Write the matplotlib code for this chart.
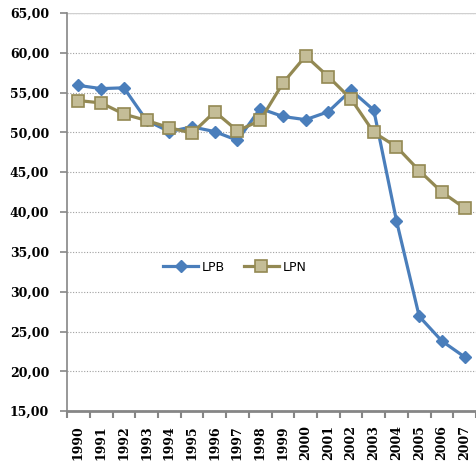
import matplotlib.pyplot as plt
from matplotlib.ticker import FixedLocator, FuncFormatter

years = [str(y) for y in range(1990, 2008)]
lpb = [55.9, 55.5, 55.6, 51.5, 50.1, 50.7, 50.1, 49.0, 53.0, 52.0,
       51.6, 52.6, 55.3, 52.8, 38.9, 26.9, 23.8, 21.8]
lpn = [54.0, 53.7, 52.3, 51.5, 50.6, 49.9, 52.6, 50.2, 51.5, 56.2,
       59.6, 57.0, 54.2, 50.0, 48.2, 45.2, 42.5, 40.5]
yticks = [15, 20, 25, 30, 35, 40, 45, 50, 55, 60, 65]

fig = plt.figure(figsize=(4.76, 4.63), dpi=100)
ax = fig.add_axes([0.141, 0.112, 0.859, 0.86])

x = list(range(len(years)))
ax.plot(x, lpb, color='#4A7EBB', lw=2.3, marker='D', ms=6.5,
        mfc='#4A7EBB', mec='#4A7EBB', label='LPB', zorder=3)
ax.plot(x, lpn, color='#938953', lw=2.3, marker='s', ms=8,
        mfc='#C4BD97', mec='#938953', mew=1.2, label='LPN', zorder=3)

ax.set_xlim(-0.5, len(years) - 0.5)
ax.set_ylim(15, 65)
ax.set_yticks(yticks)
ax.yaxis.set_major_formatter(FuncFormatter(lambda v, p: f'{v:.2f}'.replace('.', ',')))
ax.set_xticks(x)
ax.set_xticklabels(years, rotation=90)
ax.xaxis.set_minor_locator(FixedLocator([i - 0.5 for i in range(len(years) + 1)]))
ax.tick_params(axis='x', which='major', length=0, pad=10)
ax.tick_params(axis='x', which='minor', length=5, width=1.5, color='#868686', direction='out')
ax.tick_params(axis='y', length=5, width=1.2, color='#868686', pad=8)

for lab in ax.get_xticklabels() + ax.get_yticklabels():
    lab.set_fontfamily('DejaVu Serif')
    lab.set_fontweight('bold')
    lab.set_fontsize(9)

ax.grid(axis='y', color='#A0A0A0', linestyle=(0, (1, 1.5)), lw=0.8)
ax.axhline(65, color='#D0D0D0', lw=1)
for s in ['top', 'right']:
    ax.spines[s].set_visible(False)
ax.spines['left'].set_color('#868686')
ax.spines['left'].set_linewidth(1.2)
ax.spines['bottom'].set_color('#868686')
ax.spines['bottom'].set_linewidth(2)

ax.legend(loc='center', bbox_to_anchor=(0.41, 0.362), ncol=2, frameon=False,
          prop={'family': 'DejaVu Sans', 'size': 9}, handlelength=2.8,
          columnspacing=1.5, handletextpad=0.3)

fig.savefig('out.png', dpi=100)
